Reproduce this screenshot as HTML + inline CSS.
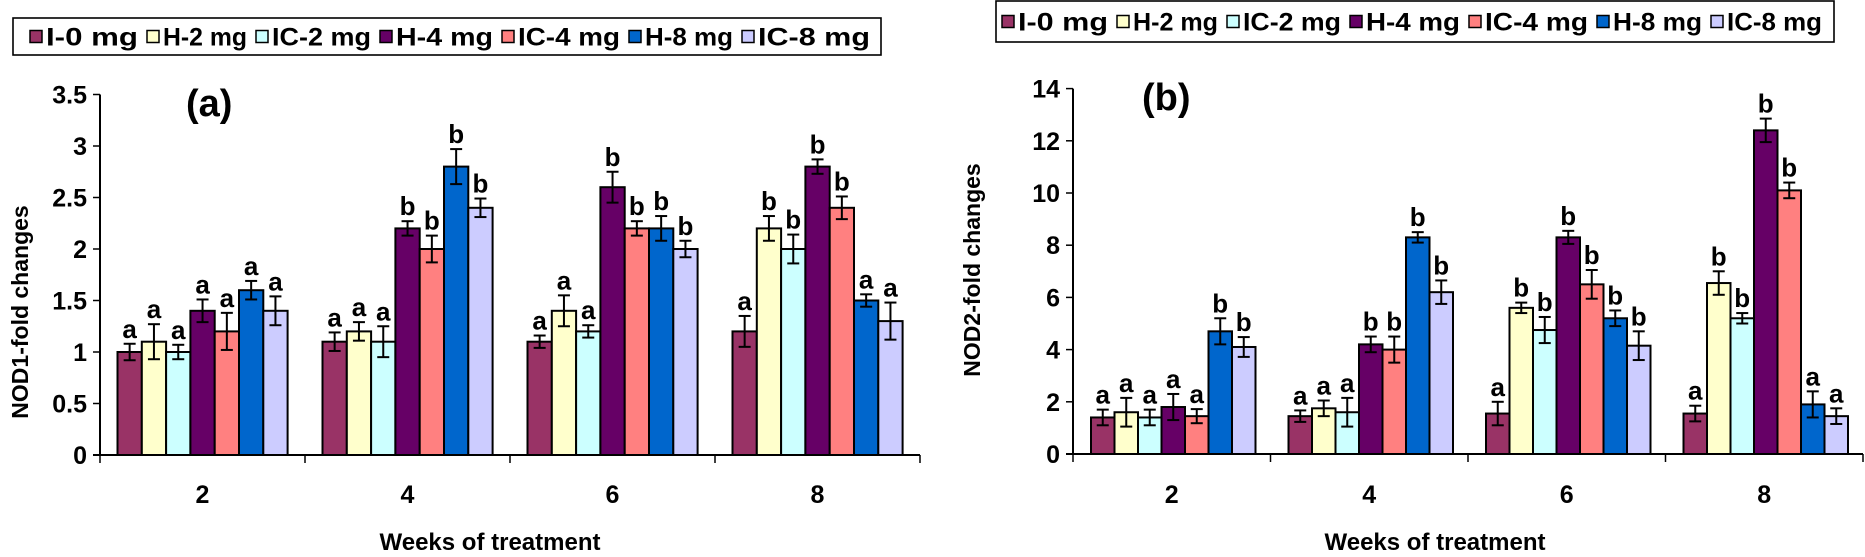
<!DOCTYPE html>
<html><head><meta charset="utf-8"><style>
html,body{margin:0;padding:0;background:#fff;}
svg{display:block;}
text{font-family:"Liberation Sans",Arial,sans-serif;font-weight:bold;fill:#000;}
</style></head><body>
<svg id="s" width="1865" height="557" viewBox="0 0 1865 557" xmlns="http://www.w3.org/2000/svg">
<g id="g"></g>
<text x="186" y="116" font-size="38">(a)</text>
<text x="1142" y="110" font-size="38">(b)</text>
<text x="490" y="550" font-size="24" text-anchor="middle">Weeks of treatment</text>
<text x="1435" y="550" font-size="24" text-anchor="middle">Weeks of treatment</text>
<text transform="translate(28,312) rotate(-90)" font-size="23" text-anchor="middle">NOD1-fold changes</text>
<text transform="translate(980,270) rotate(-90)" font-size="23" text-anchor="middle">NOD2-fold changes</text>
</svg>
<script>
const NS="http://www.w3.org/2000/svg", g=document.getElementById('g');
function el(t,a,txt){const e=document.createElementNS(NS,t);for(const k in a)e.setAttribute(k,a[k]);if(txt!=null)e.textContent=txt;g.appendChild(e);return e;}
const cols=["#993366","#FFFFCC","#CCFFFF","#660066","#FF8080","#0066CC","#CCCCFF"];
const names=["I-0 mg","H-2 mg","IC-2 mg","H-4 mg","IC-4 mg","H-8 mg","IC-8 mg"];
function legend(bx,by,bw,bh,sw,tend){
  el('rect',{x:bx,y:by,width:bw,height:bh,fill:'#fff',stroke:'#000','stroke-width':1.6});
  for(let i=0;i<7;i++){const x=sw[i];
    const nx=(i<6?sw[i+1]-9:tend);
    el('rect',{x:x,y:by+bh/2-6,width:12,height:12,fill:cols[i],stroke:'#000','stroke-width':1.5});
    el('text',{x:x+16,y:by+bh/2+9,'font-size':25,textLength:nx-(x+16),lengthAdjust:'spacingAndGlyphs'},names[i]);}
}
legend(13,18,868,37,[30,147,256,380,502,629,742],870);
legend(996,1,838,41,[1002,1117,1227,1350,1469,1597,1711],1822);
function chart(o){
  const {ax,catW,base,unit,ymax,step,barW,off,data,err,lab,fmt}=o;
  const right=ax+catW*4;
  for(let i=0;i<4;i++){const gx=ax+catW*i+off;
    for(let j=0;j<7;j++){const v=data[i][j],e=err[i][j],x=gx+barW*j,h=v*unit;
      el('rect',{x:x,y:base-h,width:barW,height:h,fill:cols[j],stroke:'#000','stroke-width':2});
      const cx=x+barW/2,t=base-(v+e)*unit,b=base-(v-e)*unit;
      el('line',{x1:cx,x2:cx,y1:t,y2:b,stroke:'#000','stroke-width':2});
      el('line',{x1:cx-6,x2:cx+6,y1:t,y2:t,stroke:'#000','stroke-width':2});
      el('line',{x1:cx-6,x2:cx+6,y1:b,y2:b,stroke:'#000','stroke-width':2});
      el('text',{x:cx,y:t-6,'font-size':26,'text-anchor':'middle'},lab[i][j]);
    }
    el('text',{x:ax+catW*i+catW/2,y:503,'font-size':25,'text-anchor':'middle'},String([2,4,6,8][i]));
  }
  el('line',{x1:ax,x2:ax,y1:base-ymax*unit,y2:base,stroke:'#000','stroke-width':2});
  el('line',{x1:ax-7,x2:right,y1:base,y2:base,stroke:'#000','stroke-width':2});
  for(let i=0;i<=4;i++){const x=ax+catW*i;el('line',{x1:x,x2:x,y1:base,y2:base+8,stroke:'#000','stroke-width':1.5});}
  for(let v=0;v<=ymax+1e-9;v+=step){const y=base-v*unit;
    el('line',{x1:ax-7,x2:ax,y1:y,y2:y,stroke:'#000','stroke-width':1.5});
    el('text',{x:ax-13,y:y+9,'font-size':25,'text-anchor':'end'},fmt(v));}
}
chart({ax:100,catW:205,base:455,unit:103,ymax:3.5,step:0.5,barW:24.3,off:17.5,
 fmt:v=>String(Math.round(v*10)/10),
 data:[[1.0,1.1,1.0,1.4,1.2,1.6,1.4],[1.1,1.2,1.1,2.2,2.0,2.8,2.4],[1.1,1.4,1.2,2.6,2.2,2.2,2.0],[1.2,2.2,2.0,2.8,2.4,1.5,1.3]],
 err:[[.08,.17,.07,.11,.18,.09,.14],[.09,.09,.15,.07,.13,.17,.09],[.06,.15,.06,.15,.07,.12,.08],[.15,.12,.14,.07,.11,.06,.18]],
 lab:[["a","a","a","a","a","a","a"],["a","a","a","b","b","b","b"],["a","a","a","b","b","b","b"],["a","b","b","b","b","a","a"]]});
chart({ax:1073,catW:197.5,base:454,unit:26.1,ymax:14,step:2,barW:23.5,off:18,
 fmt:v=>String(Math.round(v)),
 data:[[1.4,1.6,1.4,1.8,1.45,4.7,4.1],[1.45,1.75,1.6,4.2,4.0,8.3,6.2],[1.55,5.6,4.75,8.3,6.5,5.2,4.15],[1.55,6.55,5.2,12.4,10.1,1.9,1.45]],
 err:[[.3,.55,.3,.5,.27,.5,.38],[.22,.3,.55,.3,.5,.2,.45],[.45,.2,.5,.25,.55,.3,.55],[.3,.45,.2,.45,.3,.5,.3]],
 lab:[["a","a","a","a","a","b","b"],["a","a","a","b","b","b","b"],["a","b","b","b","b","b","b"],["a","b","b","b","b","a","a"]]});
</script>
</body></html>
